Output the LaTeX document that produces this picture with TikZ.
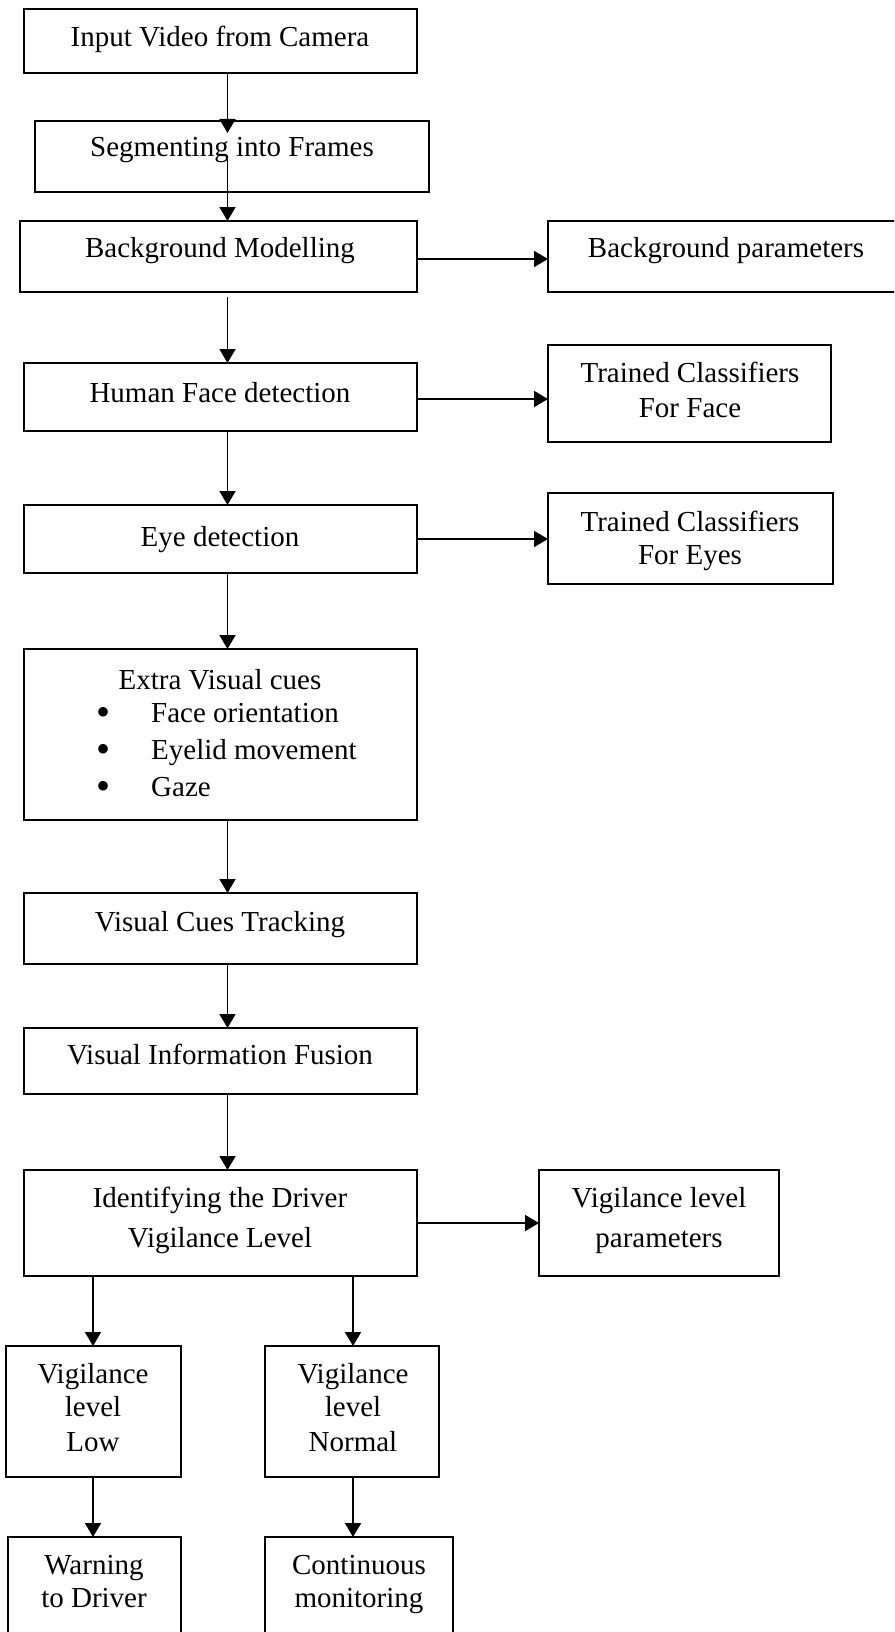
\documentclass[tikz,border=0pt]{standalone}
\usepackage{fontspec}
\setmainfont{Liberation Serif}
\usetikzlibrary{arrows.meta}
\newcommand{\mybox}[5]{\node[box, minimum width={(#4)-(#2)}, minimum height={(#5)-(#3)}] (#1) at (#2,#3) {};}
\tikzset{
  box/.style={draw, line width=1.8pt, inner sep=0pt, outer sep=0pt, anchor=north west},
  txt/.style={font=\fontsize{29pt}{34pt}\selectfont, inner sep=0pt, align=center, anchor=base},
  txtwide/.style={txt, font=\fontsize{29pt}{40pt}\selectfont},
  bul/.style={font=\fontsize{40pt}{40pt}\selectfont, inner sep=0pt, anchor=base},
  arr/.style={line width=1.8pt, -{Triangle[width=16pt,length=14pt]}},
}
\begin{document}
\begin{tikzpicture}[x=1pt, y=-1pt]
\useasboundingbox (0,0) rectangle (894,1632);
\clip (0,0) rectangle (894,1632);
% boxes
\mybox{in}{24}{9}{417}{73}
\mybox{seg}{35}{121}{429}{192}
\mybox{bm}{20}{221}{417}{292}
\mybox{bp}{548}{221}{910}{292}
\mybox{hfd}{24}{363}{417}{431}
\mybox{tf}{548}{345}{831}{442}
\mybox{eye}{24}{505}{417}{573}
\mybox{te}{548}{493}{833}{584}
\mybox{evc}{24}{649}{417}{820}
\mybox{vct}{24}{893}{417}{964}
\mybox{vif}{24}{1028}{417}{1094}
\mybox{idv}{24}{1170}{417}{1276}
\mybox{vlp}{539}{1170}{779}{1276}
\mybox{vll}{6}{1346}{181}{1477}
\mybox{vln}{265}{1346}{439}{1477}
\mybox{wtd}{8}{1537}{181}{1660}
\mybox{cm}{265}{1537}{453}{1660}
% texts (anchor base = baseline of last line)
\node[txt] (in-t) at (220,47) {Input Video from Camera};
\node[txt] (seg-t) at (232,157) {Segmenting into Frames};
\node[txt] (bm-t) at (220,257) {Background Modelling};
\node[txt] (bp-t) at (726,257) {Background parameters};
\node[txt] (hfd-t) at (220,402) {Human Face detection};
\node[txt] (tf-t) at (690,417) {Trained Classifiers\\[1pt]For Face};
\node[txt] (eye-t) at (220,546) {Eye detection};
\node[txt] (te-t) at (690,564) {Trained Classifiers\\[-1pt]For Eyes};
\node[txt] (evc-t) at (220,689) {Extra Visual cues};
\node[bul] (b1) at (104,725) {\textbullet};
\node[bul] (b2) at (104,762) {\textbullet};
\node[bul] (b3) at (104,799) {\textbullet};
\node[txt, anchor=base west] (b1-t) at (151,722) {Face orientation};
\node[txt, anchor=base west] (b2-t) at (151,759) {Eyelid movement};
\node[txt, anchor=base west] (b3-t) at (151,796) {Gaze};
\node[txt] (vct-t) at (220,931) {Visual Cues Tracking};
\node[txt] (vif-t) at (220,1064) {Visual Information Fusion};
\node[txtwide] (idv-t) at (220,1247) {Identifying the Driver\\Vigilance Level};
\node[txtwide] (vlp-t) at (659,1247) {Vigilance level\\parameters};
\node[txt] (vll-t) at (93,1451) {Vigilance\\[-1pt]level\\[1pt]Low};
\node[txt] (vln-t) at (353,1451) {Vigilance\\[-1pt]level\\[1pt]Normal};
\node[txt] (wtd-t) at (94,1607) {Warning\\[-1pt]to Driver};
\node[txt] (cm-t) at (359,1607) {Continuous\\[-1pt]monitoring};
% connector guide coordinates
\coordinate (cx) at (227.5,0);
\coordinate (lx) at (93,0);
\coordinate (rx) at (353,0);
\coordinate (ybp) at (0,259);
\coordinate (ytf) at (0,399);
\coordinate (yte) at (0,539);
\coordinate (yvlp) at (0,1223);
% connectors
\draw[arr] (in.south -| cx) -- ([yshift=-12pt]seg.north -| cx);
\draw[arr] ([yshift=-38pt]seg.north -| cx) -- (bm.north -| cx);
\draw[arr] (bm.east |- ybp) -- (bp.west |- ybp);
\draw[arr] ([yshift=-5pt]bm.south -| cx) -- (hfd.north -| cx);
\draw[arr] (hfd.east |- ytf) -- (tf.west |- ytf);
\draw[arr] (hfd.south -| cx) -- (eye.north -| cx);
\draw[arr] (eye.east |- yte) -- (te.west |- yte);
\draw[arr] (eye.south -| cx) -- (evc.north -| cx);
\draw[arr] (evc.south -| cx) -- (vct.north -| cx);
\draw[arr] (vct.south -| cx) -- (vif.north -| cx);
\draw[arr] (vif.south -| cx) -- (idv.north -| cx);
\draw[arr] (idv.east |- yvlp) -- (vlp.west |- yvlp);
\draw[arr] (idv.south -| lx) -- (vll.north -| lx);
\draw[arr] (idv.south -| rx) -- (vln.north -| rx);
\draw[arr] (vll.south -| lx) -- (wtd.north -| lx);
\draw[arr] (vln.south -| rx) -- (cm.north -| rx);
\end{tikzpicture}
\end{document}
